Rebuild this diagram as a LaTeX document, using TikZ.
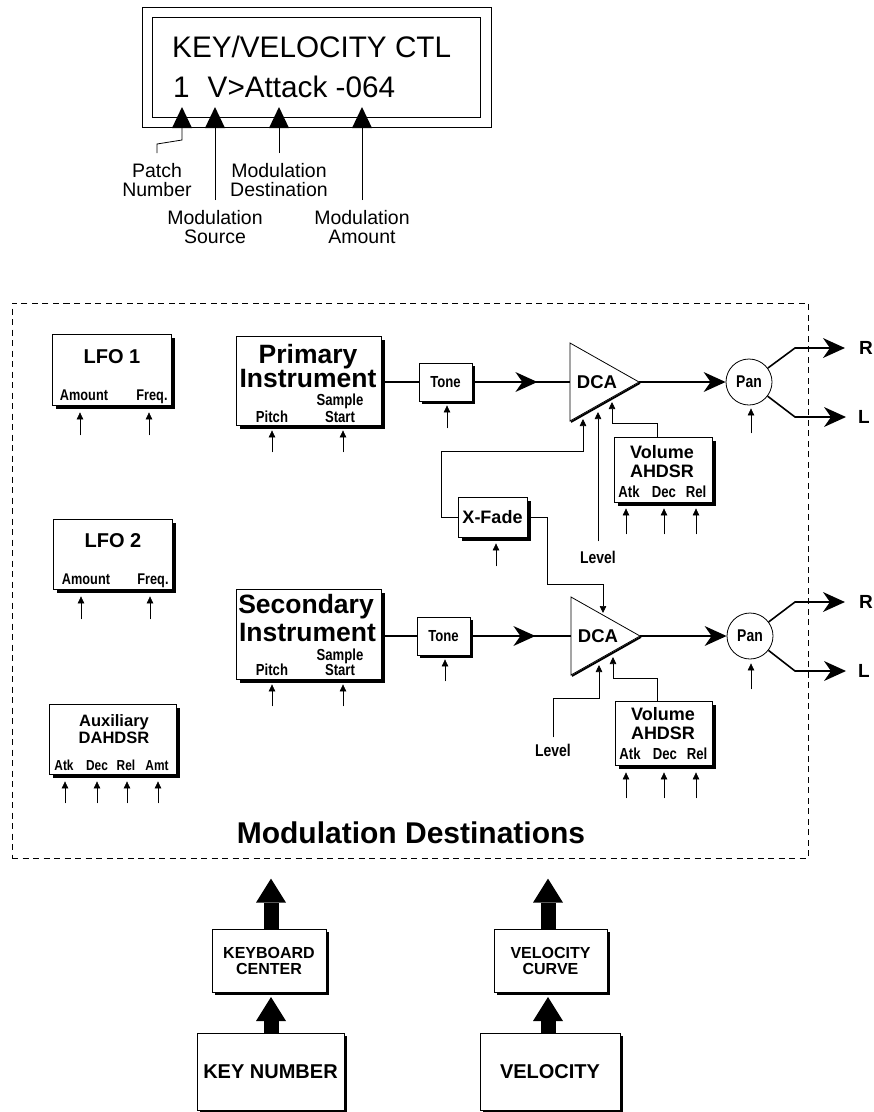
\documentclass[tikz,border=0pt]{standalone}
\usepackage{fontspec}
\setmainfont{Liberation Sans}
\newfontfamily\narrowsf[FakeStretch=0.82]{Liberation Sans}
\usetikzlibrary{arrows.meta,shadows,decorations.markings}

\newcommand\setfs[2]{\fontsize{#1}{#2}\selectfont}
% short upward modulation input below a block: node, x, start offset below node, length
\newcommand\modstub[4]{\draw[modin] (#2,0 |- #1.south) ++(0,#3) -- ++(0,-#4);}

\begin{document}
\begin{tikzpicture}[x=1pt,y=-1pt,
  box/.style={draw, line width=0.8pt, fill=white, inner sep=0pt,
    drop shadow={shadow xshift=4pt, shadow yshift=-4pt, opacity=1, fill=black}},
  sbox/.style={draw, line width=0.8pt, fill=white, inner sep=0pt,
    drop shadow={shadow xshift=3pt, shadow yshift=-3pt, opacity=1, fill=black}},
  txt/.style={inner sep=0pt, anchor=base},
  headf/.style={txt, font=\bfseries\setfs{26.5}{26}},
  lfof/.style={txt, font=\bfseries\setfs{20}{20}},
  volf/.style={txt, font=\bfseries\setfs{18}{18}},
  auxf/.style={txt, font=\bfseries\setfs{16.5}{17}},
  tagf/.style={txt, font=\narrowsf\bfseries\setfs{15.5}{15}},
  tagg/.style={txt, font=\narrowsf\bfseries\setfs{16}{16}},
  dispf/.style={inner sep=0pt, anchor=base west, font=\setfs{29.7}{30}},
  calloutf/.style={inner sep=0pt, anchor=north, align=center, font=\setfs{19.5}{19}},
  rlf/.style={inner sep=0pt, font=\bfseries\setfs{19}{19}},
  modin/.style={line width=0.6pt, -{Triangle[length=7pt,width=6.5pt]}},
  sig/.style={line width=1.6pt},
  ctl/.style={line width=0.7pt},
  ctlarrow/.style={ctl, -{Triangle[length=7pt,width=6.5pt]}},
  bigtip/.style={-{Stealth[length=22pt,width=20pt,inset=7pt,line width=0pt]}},
  midtip/.style={postaction={decorate}, decoration={markings,
    mark=at position #1 with {\arrow{Stealth[length=22pt,width=20pt,inset=7pt,line width=0pt]}}}},
  dispptr/.style={line width=0.8pt, -{Triangle[length=21pt,width=20pt,line width=0pt]}},
  fatarrow/.style={line width=15pt, -{Triangle[length=24pt,width=30pt,line width=0pt]}},
  dcashape/.style={draw, line width=0.8pt, fill=white},
]
\useasboundingbox (0,0) rectangle (874,1112);

% ---------------- front-panel display ----------------
\node[draw, line width=0.9pt, minimum width=349pt, minimum height=120pt, inner sep=0pt] (dispout) at (316.5,67) {};
\node[draw, line width=0.9pt, minimum width=328pt, minimum height=100pt, inner sep=0pt] (dispin) at (316,67) {};
\node[dispf] (title) at (172,57) {KEY/VELOCITY CTL};
\node[dispf] (param) at (173,97) {1\hspace{18pt}V>Attack -064};

\coordinate (tipA) at (182,107);
\coordinate (tipB) at (215,107);
\coordinate (tipC) at (279,107);
\coordinate (tipD) at (362,107);
\coordinate (patchbend) at (182,140);

\node[calloutf] (lblpatch) at (157,163) {Patch\\Number};
\node[calloutf] (lblsrc) at (215,210) {Modulation\\Source};
\node[calloutf] (lbldest) at (279,163) {Modulation\\Destination};
\node[calloutf] (lblamt) at (362,210) {Modulation\\Amount};

\draw[dispptr] ([yshift=10pt]lblpatch.north) -- ++(0,-9) -- (patchbend) -- (tipA);
\draw[dispptr] ([yshift=10pt]lblsrc.north) -- (tipB);
\draw[dispptr] ([yshift=10pt]lbldest.north) -- (tipC);
\draw[dispptr] ([yshift=10pt]lblamt.north) -- (tipD);

% ---------------- destinations frame ----------------
\node[draw, line width=0.6pt, dash pattern=on 6pt off 4.5pt, minimum width=796pt, minimum height=555pt, inner sep=0pt] (frame) at (410,580.5) {};
\node[inner sep=0pt, font=\bfseries\setfs{30}{30}] (framecap) at (411,833) {Modulation Destinations};

% ---------------- LFOs and auxiliary envelope ----------------
\node[box, minimum width=119pt, minimum height=71pt] (lfo1) at (111.5,369.5) {};
\node[lfof] (lfo1t) at (112,363) {LFO 1};
\node[tagf] (lfo1a) at (84,400) {Amount};
\node[tagf] (lfo1f) at (152,400) {Freq.};

\node[box, minimum width=119pt, minimum height=70pt] (lfo2) at (112.5,554) {};
\node[lfof] (lfo2t) at (113,547) {LFO 2};
\node[tagf] (lfo2a) at (86,584) {Amount};
\node[tagf] (lfo2f) at (153,584) {Freq.};

\node[box, minimum width=127pt, minimum height=70pt] (aux) at (112.5,739) {};
\node[auxf] (auxt1) at (114,726) {Auxiliary};
\node[auxf] (auxt2) at (114,743) {DAHDSR};
\node[tagf, font=\narrowsf\bfseries\setfs{14.5}{15}] (auxa) at (64,770) {Atk};
\node[tagf, font=\narrowsf\bfseries\setfs{14.5}{15}] (auxd) at (97,770) {Dec};
\node[tagf, font=\narrowsf\bfseries\setfs{14.5}{15}] (auxr) at (126,770) {Rel};
\node[tagf, font=\narrowsf\bfseries\setfs{14.5}{15}] (auxm) at (157,770) {Amt};

% ---------------- primary voice ----------------
\node[box, minimum width=145pt, minimum height=89pt] (prim) at (308.5,380.5) {};
\node[headf] (primt1) at (308,363) {Primary};
\node[headf] (primt2) at (308,387) {Instrument};
\node[tagg] (primp) at (272,422) {Pitch};
\node[tagg] (prims1) at (340,405) {Sample};
\node[tagg] (prims2) at (340,422) {Start};

\node[sbox, minimum width=53pt, minimum height=38pt, font=\narrowsf\bfseries\setfs{16}{16}] (tone1) at (445.5,382) {Tone};

\draw[dcashape] (570,343) -- (639,382) -- (570,421) -- cycle;
\draw[line width=1.8pt] (571,422) -- (640,383);
\node[inner sep=0pt, font=\bfseries\setfs{18.5}{19}] (dca1) at (597,382) {DCA};
\coordinate (dca1in) at (570,382);
\coordinate (dca1out) at (639,382);

\node[draw, line width=0.8pt, circle, minimum size=46pt, inner sep=0pt, font=\narrowsf\bfseries\setfs{17}{17}] (pan1) at (749,382) {Pan};

\node[box, minimum width=98pt, minimum height=65pt] (vol1) at (663,469.5) {};
\node[volf] (vol1t1) at (662,458) {Volume};
\node[volf] (vol1t2) at (662,477) {AHDSR};
\node[tagg] (vol1a) at (629,497) {Atk};
\node[tagg] (vol1d) at (664,497) {Dec};
\node[tagg] (vol1r) at (696,497) {Rel};

\node[inner sep=0pt, anchor=base, font=\narrowsf\bfseries\setfs{17}{17}] (lvl1) at (598,563) {Level};

\node[box, minimum width=69pt, minimum height=40pt, font=\bfseries\setfs{18}{18}] (xfade) at (492.5,517) {X-Fade};

% ---------------- secondary voice ----------------
\node[box, minimum width=145pt, minimum height=90pt] (sec) at (308.5,634) {};
\node[headf] (sect1) at (306,613) {Secondary};
\node[headf] (sect2) at (307.5,641) {Instrument};
\node[tagg] (secp) at (272,675) {Pitch};
\node[tagg] (secs1) at (340,660) {Sample};
\node[tagg] (secs2) at (340,675) {Start};

\node[sbox, minimum width=53pt, minimum height=38pt, font=\narrowsf\bfseries\setfs{16}{16}] (tone2) at (443.5,636) {Tone};

\draw[dcashape] (571,597) -- (640,636) -- (571,675) -- cycle;
\draw[line width=1.8pt] (572,676) -- (641,637);
\node[inner sep=0pt, font=\bfseries\setfs{18.5}{19}] (dca2) at (598,636) {DCA};
\coordinate (dca2in) at (571,636);
\coordinate (dca2out) at (640,636);

\node[draw, line width=0.8pt, circle, minimum size=46pt, inner sep=0pt, font=\narrowsf\bfseries\setfs{17}{17}] (pan2) at (750,636) {Pan};

\node[box, minimum width=97pt, minimum height=64pt] (vol2) at (663.5,733) {};
\node[volf] (vol2t1) at (663,720) {Volume};
\node[volf] (vol2t2) at (663,739) {AHDSR};
\node[tagg] (vol2a) at (630,759) {Atk};
\node[tagg] (vol2d) at (665,759) {Dec};
\node[tagg] (vol2r) at (697,759) {Rel};

\node[inner sep=0pt, anchor=base, font=\narrowsf\bfseries\setfs{17}{17}] (lvl2) at (553,756) {Level};

% ---------------- outputs ----------------
\node[rlf] (R1) at (866,348) {R};
\node[rlf] (L1) at (864,417) {L};
\node[rlf] (R2) at (866,602) {R};
\node[rlf] (L2) at (864,671) {L};
\coordinate (r1bend) at (795,348);
\coordinate (l1bend) at (795,417);
\coordinate (r2bend) at (795,602);
\coordinate (l2bend) at (795,671);

% ---------------- signal paths ----------------
\draw[sig] (prim.east |- tone1) -- (tone1.west);
\draw[sig, midtip=65pt] (tone1.east) -- (dca1in);
\draw[sig, bigtip] (dca1out) -- (pan1);
\draw[sig, bigtip] (pan1) -- (r1bend) -- ([xshift=-14pt]R1.west |- r1bend);
\draw[sig, bigtip] (pan1) -- (l1bend) -- ([xshift=-12pt]L1.west |- l1bend);

\draw[sig] (sec.east |- tone2) -- (tone2.west);
\draw[sig, midtip=65pt] (tone2.east) -- (dca2in);
\draw[sig, bigtip] (dca2out) -- (pan2);
\draw[sig, bigtip] (pan2) -- (r2bend) -- ([xshift=-14pt]R2.west |- r2bend);
\draw[sig, bigtip] (pan2) -- (l2bend) -- ([xshift=-12pt]L2.west |- l2bend);

% ---------------- control paths ----------------
\draw[ctlarrow] (xfade.west) -- (441,0 |- xfade.west) -- (441,451) -- (583,451) -- (583,419);
\draw[ctlarrow] (xfade.east) -- (547,0 |- xfade.east) -- (547,584) -- (603,584) -- (603,613);
\draw[ctlarrow] ([yshift=9pt]lvl1.north) -- (598,412);
\draw[ctlarrow] (vol1.north -| 657,0) -- (657,423) -- (612,423) -- (612,402);
\draw[ctlarrow] ([yshift=6pt]lvl2.north) -- (553,698) -- (599,698) -- (599,665);
\draw[ctlarrow] (vol2.north -| 657,0) -- (657,678) -- (613,678) -- (613,657);

% ---------------- modulation inputs ----------------
\modstub{lfo1}{80}{30}{23}
\modstub{lfo1}{149}{30}{23}
\modstub{lfo2}{81}{30}{23}
\modstub{lfo2}{150}{30}{23}
\modstub{aux}{65}{29}{22}
\modstub{aux}{97}{29}{22}
\modstub{aux}{127}{29}{22}
\modstub{aux}{158}{29}{22}
\modstub{prim}{272}{27}{22}
\modstub{prim}{343}{27}{22}
\modstub{sec}{272}{27}{22}
\modstub{sec}{343}{27}{22}
\modstub{tone1}{447}{27}{23}
\modstub{tone2}{445}{26}{22}
\modstub{xfade}{496}{29}{23}
\modstub{vol1}{626}{32}{26}
\modstub{vol1}{664}{32}{26}
\modstub{vol1}{696}{32}{26}
\modstub{vol2}{626}{33}{26}
\modstub{vol2}{664}{33}{26}
\modstub{vol2}{696}{33}{26}
\modstub{pan1}{751}{28}{25}
\modstub{pan2}{751}{30}{26}

% ---------------- sources ----------------
\node[sbox, minimum width=114pt, minimum height=63pt, align=center, font=\bfseries\setfs{16}{16}] (kbc) at (269,960.5) {KEYBOARD\\CENTER};
\node[sbox, minimum width=113pt, minimum height=63pt, align=center, font=\bfseries\setfs{16}{16}] (vcurve) at (550.5,960.5) {VELOCITY\\CURVE};
\node[sbox, minimum width=147pt, minimum height=77pt, font=\bfseries\setfs{20}{20}] (keynum) at (270.5,1071.5) {KEY NUMBER};
\node[sbox, minimum width=140pt, minimum height=77pt, font=\bfseries\setfs{20}{20}] (vel) at (550,1071.5) {VELOCITY};

\draw[fatarrow] (271,0 |- kbc.north) -- ++(0,-50);
\draw[fatarrow] (271,0 |- keynum.north) -- (271,997);
\draw[fatarrow] (548,0 |- vcurve.north) -- ++(0,-50);
\draw[fatarrow] (548,0 |- vel.north) -- (548,997);
\end{tikzpicture}
\end{document}
